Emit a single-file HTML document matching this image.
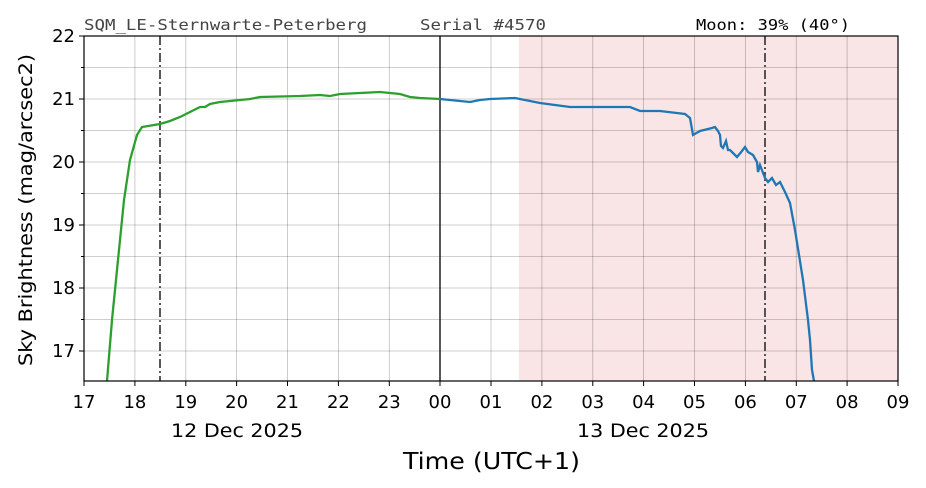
<!DOCTYPE html>
<html><head><style>body{margin:0;background:#fff}svg{display:block}</style></head><body>
<svg width="926" height="488" xmlns="http://www.w3.org/2000/svg" font-family="DejaVu Sans, Liberation Sans, sans-serif">
<rect width="926" height="488" fill="#fff"/>
<rect x="519" y="36" width="379" height="345" fill="#f9e5e5"/>
<g stroke="#000" stroke-opacity="0.25" stroke-width="0.8">
<line x1="84" x2="898" y1="67.5" y2="67.5"/><line x1="84" x2="898" y1="99" y2="99"/><line x1="84" x2="898" y1="130.5" y2="130.5"/><line x1="84" x2="898" y1="162" y2="162"/><line x1="84" x2="898" y1="193.5" y2="193.5"/><line x1="84" x2="898" y1="225" y2="225"/><line x1="84" x2="898" y1="256.5" y2="256.5"/><line x1="84" x2="898" y1="288" y2="288"/><line x1="84" x2="898" y1="319.5" y2="319.5"/><line x1="84" x2="898" y1="351" y2="351"/>
<line y1="36" y2="381" x1="134.9" x2="134.9"/><line y1="36" y2="381" x1="185.8" x2="185.8"/><line y1="36" y2="381" x1="236.6" x2="236.6"/><line y1="36" y2="381" x1="287.5" x2="287.5"/><line y1="36" y2="381" x1="338.4" x2="338.4"/><line y1="36" y2="381" x1="389.3" x2="389.3"/><line y1="36" y2="381" x1="491" x2="491"/><line y1="36" y2="381" x1="541.9" x2="541.9"/><line y1="36" y2="381" x1="592.8" x2="592.8"/><line y1="36" y2="381" x1="643.6" x2="643.6"/><line y1="36" y2="381" x1="694.5" x2="694.5"/><line y1="36" y2="381" x1="745.4" x2="745.4"/><line y1="36" y2="381" x1="796.3" x2="796.3"/><line y1="36" y2="381" x1="847.1" x2="847.1"/>
</g>
<line x1="440" x2="440" y1="36" y2="381" stroke="#000" stroke-width="1.3"/>
<line x1="160" x2="160" y1="36" y2="381" stroke="#222" stroke-width="1.5" stroke-dasharray="9,3,2,3"/>
<line x1="765" x2="765" y1="36" y2="381" stroke="#222" stroke-width="1.5" stroke-dasharray="9,3,2,3"/>
<polyline fill="none" stroke="#2ca02c" stroke-width="2.3" points="107,381 112,320 118,260 124,200 130,160 137,135 142,127 160,124 170,121 180,117 190,112 200,107 205,107 210,104 220,102 240,100 250,99 260,97 300,96 320,95 330,96 340,94 360,93 380,92 390,93 400,94 410,97 420,98 440,99"/>
<polyline fill="none" stroke="#1f77b4" stroke-width="2.3" points="440,99 460,101 470,102 480,100 490,99 515,98 540,103 570,107 600,107 630,107 640,111 660,111 685,114 690,118 693,135 700,131 712,128 715,127 718,131 720,135 721,146 723,148 726,141 728,150 730,150 737,157 742,151 745,147 748,152 753,155 757,162 758,172 760,165 765,178 768,182 772,178 776,185 780,182 785,192 790,203 795,230 803,280 808,320 810,340 812,370 814,381"/>
<rect x="84" y="36" width="814" height="345" fill="none" stroke="#000" stroke-width="1.2"/>
<g stroke="#000" stroke-width="1">
<line x1="79" x2="84" y1="36" y2="36"/><line x1="79" x2="84" y1="99" y2="99"/><line x1="79" x2="84" y1="162" y2="162"/><line x1="79" x2="84" y1="225" y2="225"/><line x1="79" x2="84" y1="288" y2="288"/><line x1="79" x2="84" y1="351" y2="351"/>
<line x1="81" x2="84" y1="67.5" y2="67.5"/><line x1="81" x2="84" y1="130.5" y2="130.5"/><line x1="81" x2="84" y1="193.5" y2="193.5"/><line x1="81" x2="84" y1="256.5" y2="256.5"/><line x1="81" x2="84" y1="319.5" y2="319.5"/>
<line y1="381" y2="386" x1="84" x2="84"/><line y1="381" y2="386" x1="134.9" x2="134.9"/><line y1="381" y2="386" x1="185.8" x2="185.8"/><line y1="381" y2="386" x1="236.6" x2="236.6"/><line y1="381" y2="386" x1="287.5" x2="287.5"/><line y1="381" y2="386" x1="338.4" x2="338.4"/><line y1="381" y2="386" x1="389.3" x2="389.3"/><line y1="381" y2="386" x1="440" x2="440"/><line y1="381" y2="386" x1="491" x2="491"/><line y1="381" y2="386" x1="541.9" x2="541.9"/><line y1="381" y2="386" x1="592.8" x2="592.8"/><line y1="381" y2="386" x1="643.6" x2="643.6"/><line y1="381" y2="386" x1="694.5" x2="694.5"/><line y1="381" y2="386" x1="745.4" x2="745.4"/><line y1="381" y2="386" x1="796.3" x2="796.3"/><line y1="381" y2="386" x1="847.1" x2="847.1"/><line y1="381" y2="386" x1="898" x2="898"/>
</g>
<g font-size="18" text-anchor="end">
<text x="75" y="42">22</text><text x="75" y="105">21</text><text x="75" y="168">20</text><text x="75" y="231">19</text><text x="75" y="294">18</text><text x="75" y="357">17</text>
</g>
<g font-size="18" text-anchor="middle">
<text x="84" y="408">17</text><text x="134.9" y="408">18</text><text x="185.8" y="408">19</text><text x="236.6" y="408">20</text><text x="287.5" y="408">21</text><text x="338.4" y="408">22</text><text x="389.3" y="408">23</text><text x="440" y="408">00</text><text x="491" y="408">01</text><text x="541.9" y="408">02</text><text x="592.8" y="408">03</text><text x="643.6" y="408">04</text><text x="694.5" y="408">05</text><text x="745.4" y="408">06</text><text x="796.3" y="408">07</text><text x="847.1" y="408">08</text><text x="898" y="408">09</text>
</g>
<text x="171" y="437" font-size="19" textLength="132" lengthAdjust="spacingAndGlyphs">12 Dec 2025</text>
<text x="577" y="437" font-size="19" textLength="132" lengthAdjust="spacingAndGlyphs">13 Dec 2025</text>
<text x="403" y="469" font-size="23" textLength="177" lengthAdjust="spacingAndGlyphs">Time (UTC+1)</text>
<text transform="translate(32,366) rotate(-90)" font-size="19" textLength="312" lengthAdjust="spacingAndGlyphs">Sky Brightness (mag/arcsec2)</text>
<g font-family="DejaVu Sans Mono, Liberation Mono, monospace" font-size="15.5">
<text x="84" y="30" fill="#444" textLength="283" lengthAdjust="spacingAndGlyphs">SQM_LE-Sternwarte-Peterberg</text>
<text x="420" y="30" fill="#444" textLength="126" lengthAdjust="spacingAndGlyphs">Serial #4570</text>
<text x="696" y="30" fill="#000" textLength="154" lengthAdjust="spacingAndGlyphs">Moon: 39% (40°)</text>
</g>
</svg>
</body></html>
